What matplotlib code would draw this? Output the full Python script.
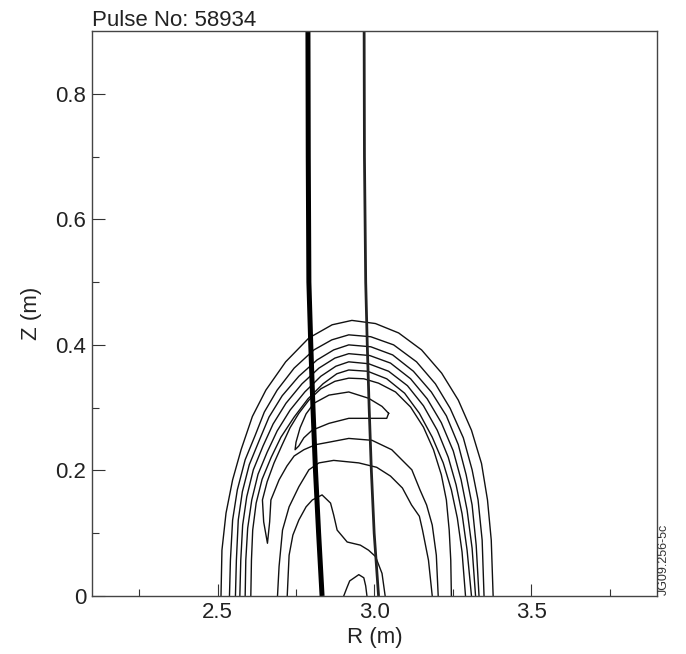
import matplotlib.pyplot as plt

plt.rcParams['font.family'] = ['Liberation Sans', 'DejaVu Sans']

# flux-like contours (R in m, Z in m)
c1_r = [2.511, 2.514, 2.527, 2.548, 2.575, 2.611, 2.654, 2.717, 2.791, 2.865, 2.928,
        3.003, 3.077, 3.150, 3.214, 3.267, 3.309, 3.341, 3.360, 3.372, 3.378]
c1_z = [0, .073, .132, .185, .233, .286, .328, .373, .411, .432, .439,
        .434, .419, .392, .355, .312, .264, .211, .153, .089, 0]

c2_r = [2.538, 2.541, 2.548, 2.563, 2.588, 2.620, 2.649, 2.690, 2.744, 2.807, 2.864,
        2.918, 2.988, 3.061, 3.134, 3.194, 3.241, 3.283, 3.311, 3.330, 3.343, 3.349]
c2_z = [0, .057, .121, .169, .217, .256, .293, .328, .363, .392, .408,
        .416, .413, .400, .373, .338, .299, .252, .201, .153, .089, 0]

c3_r = [2.557, 2.560, 2.566, 2.579, 2.601, 2.633, 2.664, 2.706, 2.759, 2.817, 2.870,
        2.918, 2.988, 3.058, 3.124, 3.181, 3.229, 3.267, 3.292, 3.311, 3.324, 3.333]
c3_z = [0, .057, .121, .166, .209, .248, .285, .319, .350, .376, .392,
        .400, .397, .384, .358, .325, .287, .241, .193, .145, .081, 0]

c4_r = [2.571, 2.574, 2.580, 2.593, 2.614, 2.645, 2.677, 2.718, 2.769, 2.823, 2.874,
        2.918, 2.985, 3.051, 3.115, 3.168, 3.213, 3.251, 3.276, 3.295, 3.311, 3.322]
c4_z = [0, .057, .113, .158, .201, .239, .274, .307, .338, .363, .379,
        .386, .383, .371, .346, .314, .276, .231, .185, .137, .076, 0]

c5_r = [2.588, 2.590, 2.596, 2.609, 2.629, 2.658, 2.690, 2.731, 2.778, 2.829, 2.877,
        2.918, 2.981, 3.045, 3.105, 3.156, 3.200, 3.235, 3.260, 3.279, 3.295, 3.309]
c5_z = [0, .057, .108, .153, .194, .229, .263, .296, .325, .350, .366,
        .373, .370, .358, .335, .303, .264, .221, .177, .131, .073, 0]

c6_r = [2.606, 2.608, 2.612, 2.623, 2.642, 2.671, 2.702, 2.744, 2.788, 2.836, 2.880,
        2.918, 2.978, 3.039, 3.096, 3.143, 3.184, 3.219, 3.245, 3.264, 3.279, 3.290]
c6_z = [0, .057, .105, .148, .186, .221, .253, .285, .314, .338, .354,
        .360, .358, .346, .323, .291, .253, .212, .169, .124, .070, 0]

# seventh contour: dips into a tongue on the left and returns on the right
c7_r = [3.245, 3.243, 3.238, 3.229, 3.213, 3.188, 3.156, 3.115, 3.067, 3.013, 2.966,
        2.918, 2.874, 2.829, 2.791, 2.759, 2.731, 2.706, 2.680, 2.658, 2.643, 2.647,
        2.659, 2.666, 2.670, 2.696, 2.721, 2.744, 2.775, 2.812, 2.855, 2.918, 2.992,
        3.055, 3.119, 3.145, 3.166, 3.184, 3.197, 3.203]
c7_z = [0, .057, .105, .153, .193, .233, .269, .301, .325, .339, .346,
        .347, .342, .330, .312, .291, .268, .241, .212, .182, .153, .118,
        .084, .118, .153, .185, .207, .223, .233, .241, .245, .251, .248,
        .233, .201, .169, .145, .113, .065, 0]

tongue_r = [3.045, 3.024, 2.981, 2.918, 2.855, 2.807, 2.782, 2.763, 2.750, 2.747,
            2.759, 2.775, 2.801, 2.855, 2.918, 2.981, 3.039, 3.045]
tongue_z = [.291, .302, .315, .325, .320, .307, .290, .268, .245, .233,
            .239, .252, .264, .275, .283, .283, .283, .291]

d_r = [2.691, 2.696, 2.707, 2.728, 2.759, 2.791, 2.823, 2.870, 2.950, 3.007, 3.051,
       3.089, 3.118, 3.143, 3.153, 3.172, 3.184]
d_z = [0, .047, .105, .142, .174, .201, .212, .216, .212, .205, .191,
       .172, .145, .127, .105, .057, 0]

e_r = [2.722, 2.725, 2.728, 2.740, 2.759, 2.782, 2.802, 2.833, 2.860, 2.870, 2.881,
       2.913, 2.955, 2.981, 3.003, 3.024, 3.034]
e_z = [0, .033, .065, .097, .121, .142, .153, .161, .148, .129, .105,
       .086, .081, .073, .063, .036, 0]

bump_r = [2.902, 2.912, 2.921, 2.950, 2.966, 2.972, 2.976]
bump_z = [0, .013, .024, .034, .029, .016, 0]

# resonance layers
thick_z = [0.9, 0.7, 0.5, 0.4, 0.3, 0.2, 0.1, 0.0]
thick_r = [2.788, 2.789, 2.791, 2.797, 2.804, 2.812, 2.822, 2.833]
thin_z = [0.9, 0.7, 0.5, 0.4, 0.3, 0.2, 0.1, 0.0]
thin_r = [2.967, 2.968, 2.972, 2.977, 2.983, 2.990, 2.999, 3.013]

x_major = [2.5, 3.0, 3.5]
x_labels = ['2.5', '3.0', '3.5']
x_minor = [2.25, 2.75, 3.25, 3.75]
y_major = [0, 0.2, 0.4, 0.6, 0.8]
y_labels = ['0', '0.2', '0.4', '0.6', '0.8']
y_minor = [0.1, 0.3, 0.5, 0.7]

fig = plt.figure(figsize=(6.86, 6.54), dpi=100)
ax = fig.add_axes([0.1341, 0.0887, 0.8236, 0.8639])

contours = [(c1_r, c1_z), (c2_r, c2_z), (c3_r, c3_z), (c4_r, c4_z), (c5_r, c5_z),
            (c6_r, c6_z), (c7_r, c7_z), (tongue_r, tongue_z), (d_r, d_z),
            (e_r, e_z), (bump_r, bump_z)]
for r, z in contours:
    ax.plot(r, z, color='#111111', lw=1.0)

ax.plot(thick_r, thick_z, color='black', lw=3.6, solid_capstyle='butt')
ax.plot(thin_r, thin_z, color='#222222', lw=2.0, solid_capstyle='butt')

ax.set_xlim(2.1, 3.9)
ax.set_ylim(0, 0.9)
ax.set_xticks(x_major)
ax.set_xticklabels(x_labels)
ax.set_xticks(x_minor, minor=True)
ax.set_yticks(y_major)
ax.set_yticklabels(y_labels)
ax.set_yticks(y_minor, minor=True)
ax.tick_params(which='major', direction='in', length=9, width=0.8,
               labelsize=16, pad=4, colors='#333333', labelcolor='#222222')
ax.tick_params(which='minor', direction='in', length=5, width=0.8, colors='#333333')
for s in ax.spines.values():
    s.set_color('#444444')
    s.set_linewidth(1.0)

ax.set_xlabel('R (m)', fontsize=16, color='#222222', labelpad=3)
ax.set_ylabel('Z (m)', fontsize=16, color='#222222', labelpad=10)

fig.text(0.1341, (654 - 26) / 654, 'Pulse No: 58934', fontsize=16,
         ha='left', va='baseline', color='#222222')
fig.text(664 / 686, (654 - 595) / 654, 'JG09.256-5c', rotation=90, fontsize=9,
         ha='center', va='bottom', color='#333333')

fig.savefig('out.png', dpi=100)
